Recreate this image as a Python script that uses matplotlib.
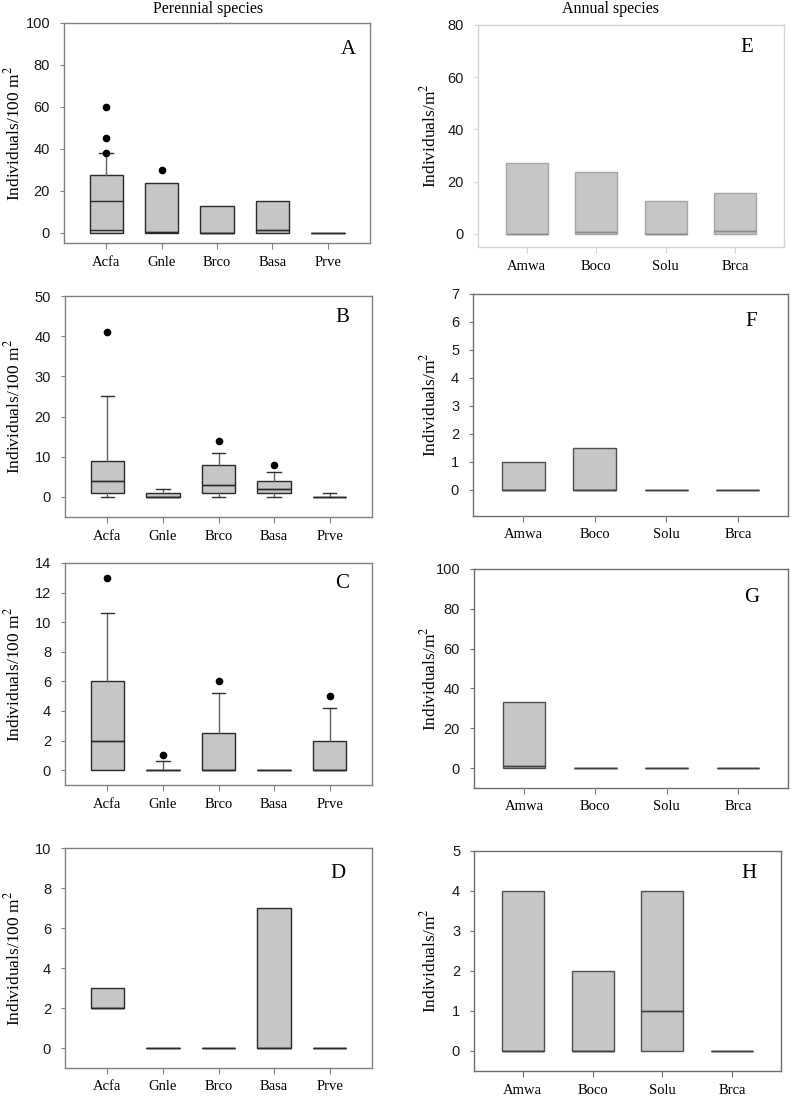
import matplotlib
matplotlib.use('Agg')
import matplotlib.pyplot as plt

plt.rcParams['font.family'] = 'Liberation Serif'
plt.rcParams['mathtext.fontset'] = 'stix'

perennial = ['Acfa', 'Gnle', 'Brco', 'Basa', 'Prve']
annual = ['Amwa', 'Boco', 'Solu', 'Brca']

# panel A
a_q1 = [0, 0, 0, 0, 0]
a_q3 = [27.4, 23.7, 12.7, 15, 0]
a_med = [1, 0.4, 0, 1, 0]
a_mean = [15, 0.4, 0, 1, 0]
a_lo = [0, 0, 0, 0, 0]
a_hi = [38, 23.7, 12.7, 15, 0]
a_out = [[60, 45, 38], [30], [], [], []]

# panel B
b_q1 = [1, 0, 1, 1, 0]
b_q3 = [9, 1, 8, 4, 0]
b_med = [4, 0, 3, 2, 0]
b_lo = [0, 0, 0, 0, 0]
b_hi = [25, 2, 11, 6.3, 1]
b_out = [[41], [], [14], [8], []]

# panel C
c_q1 = [0, 0, 0, 0, 0]
c_q3 = [6, 0, 2.5, 0, 2]
c_med = [2, 0, 0, 0, 0]
c_lo = [0, 0, 0, 0, 0]
c_hi = [10.6, 0.6, 5.2, 0, 4.2]
c_out = [[13], [1], [6], [], [5]]

# panel D
d_q1 = [2, 0, 0, 0, 0]
d_q3 = [3, 0, 0, 7, 0]
d_med = [2, 0, 0, 0, 0]

# panel E
e_q1 = [0, 0, 0, 0]
e_q3 = [27.3, 23.8, 12.8, 15.5]
e_med = [0, 0.9, 0, 1.3]

# panel F
f_q1 = [0, 0, 0, 0]
f_q3 = [1, 1.5, 0, 0]
f_med = [0, 0, 0, 0]

# panel G
g_q1 = [0, 0, 0, 0]
g_q3 = [33.4, 0, 0, 0]
g_med = [0.9, 0, 0, 0]

# panel H
h_q1 = [0, 0, 0, 0]
h_q3 = [4, 2, 4, 0]
h_med = [0, 0, 1, 0]


def make_stats(q1, q3, med, mean=None, lo=None, hi=None, out=None):
    stats = []
    for i in range(len(q1)):
        stats.append(dict(q1=q1[i], q3=q3[i], med=med[i],
                          mean=mean[i] if mean else med[i],
                          whislo=lo[i] if lo else q1[i],
                          whishi=hi[i] if hi else q3[i],
                          fliers=out[i] if out else []))
    return stats


panels = [
    ('A', perennial, make_stats(a_q1, a_q3, a_med, a_mean, a_lo, a_hi, a_out), (-5, 100), range(0, 101, 20), (64, 23, 370, 243), 'left'),
    ('B', perennial, make_stats(b_q1, b_q3, b_med, None, b_lo, b_hi, b_out), (-5, 50), range(0, 51, 10), (65, 296, 372, 517), 'left'),
    ('C', perennial, make_stats(c_q1, c_q3, c_med, None, c_lo, c_hi, c_out), (-1, 14), range(0, 15, 2), (65, 563, 372, 785), 'left'),
    ('D', perennial, make_stats(d_q1, d_q3, d_med), (-1, 10), range(0, 11, 2), (65, 848, 372, 1068), 'left'),
    ('E', annual, make_stats(e_q1, e_q3, e_med), (-5, 80), range(0, 81, 20), (478, 25, 784, 247), 'E'),
    ('F', annual, make_stats(f_q1, f_q3, f_med), (-0.93, 7), range(0, 8), (473, 294, 788, 516), 'right'),
    ('G', annual, make_stats(g_q1, g_q3, g_med), (-10, 100), range(0, 101, 20), (474, 569, 788, 788), 'right'),
    ('H', annual, make_stats(h_q1, h_q3, h_med), (-0.5, 5), range(0, 6), (474, 851, 781, 1071), 'right'),
]

letter_pos = {'A': (348, 50), 'B': (342, 317), 'C': (342, 583), 'D': (338, 873),
              'E': (747, 48), 'F': (751, 322), 'G': (752, 598), 'H': (749, 873)}

W, H = 790, 1099
fig = plt.figure(figsize=(W / 100, H / 100), dpi=100)

for letter, names, stats, ylim, yticks, box, side in panels:
    l, t, r, b = box
    ax = fig.add_axes([l / W, 1 - b / H, (r - l) / W, (b - t) / H])
    n = len(names)

    if side == 'E':
        edge, frame, medc = '#a6a6a6', '#d4d4d4', '#8c8c8c'
    elif side == 'right':
        edge, frame, medc = '#505050', '#6e6e6e', '#404040'
    else:
        edge, frame, medc = '#2a2a2a', '#808080', '#2a2a2a'

    parts = ax.bxp(stats, positions=range(1, n + 1), widths=0.6, patch_artist=True,
                   showmeans=True, meanline=True, capwidths=0.24,
                   boxprops=dict(facecolor='#c6c6c6', edgecolor=edge, linewidth=1.0),
                   medianprops=dict(color=medc, linewidth=1.0),
                   meanprops=dict(color=medc, linestyle='-', linewidth=1.0),
                   whiskerprops=dict(color='#606060', linewidth=1.0),
                   capprops=dict(color='#303030', linewidth=1.0),
                   flierprops=dict(marker='o', markerfacecolor='black', markeredgecolor='black', markersize=4.5))

    # no cap where there is no whisker
    for i, s in enumerate(stats):
        if s['whislo'] == s['q1']:
            parts['caps'][2 * i].set_visible(False)
        if s['whishi'] == s['q3']:
            parts['caps'][2 * i + 1].set_visible(False)

    ax.set_xlim(0.3 if n == 4 else 0.24, n + 0.7 if n == 4 else n + 0.76)
    ax.set_ylim(*ylim)
    ax.set_yticks(list(yticks))
    ax.set_xticks(range(1, n + 1))
    ax.set_xticklabels(names, fontsize=10.5)
    for lab in ax.get_yticklabels():
        lab.set_fontfamily('Liberation Sans')
        lab.set_fontsize(10.5)
        lab.set_color('#1a1a1a')
    ax.tick_params(axis='y', length=3, color=frame, pad=7)
    ax.tick_params(axis='x', length=4, color=frame, pad=5)
    for sp in ax.spines.values():
        sp.set_color(frame)
        sp.set_linewidth(1.0)

    if side == 'left':
        ax.set_ylabel('Individuals/100 m$^{2}$', fontsize=12.5)
        lx = 23
    else:
        ax.set_ylabel('Individuals/m$^{2}$', fontsize=12.5)
        lx = 439
    ax.yaxis.set_label_coords((lx - l) / (r - l), 0.5)

    px, py = letter_pos[letter]
    ax.text((px - l) / (r - l), (b - py) / (b - t), letter, transform=ax.transAxes,
            ha='center', va='center', fontsize=15)

fig.text(208 / W, 1 - 9 / H, 'Perennial species', ha='center', va='center', fontsize=11.5)
fig.text(610 / W, 1 - 9 / H, 'Annual species', ha='center', va='center', fontsize=11.5)

fig.savefig('out.png', dpi=100)
